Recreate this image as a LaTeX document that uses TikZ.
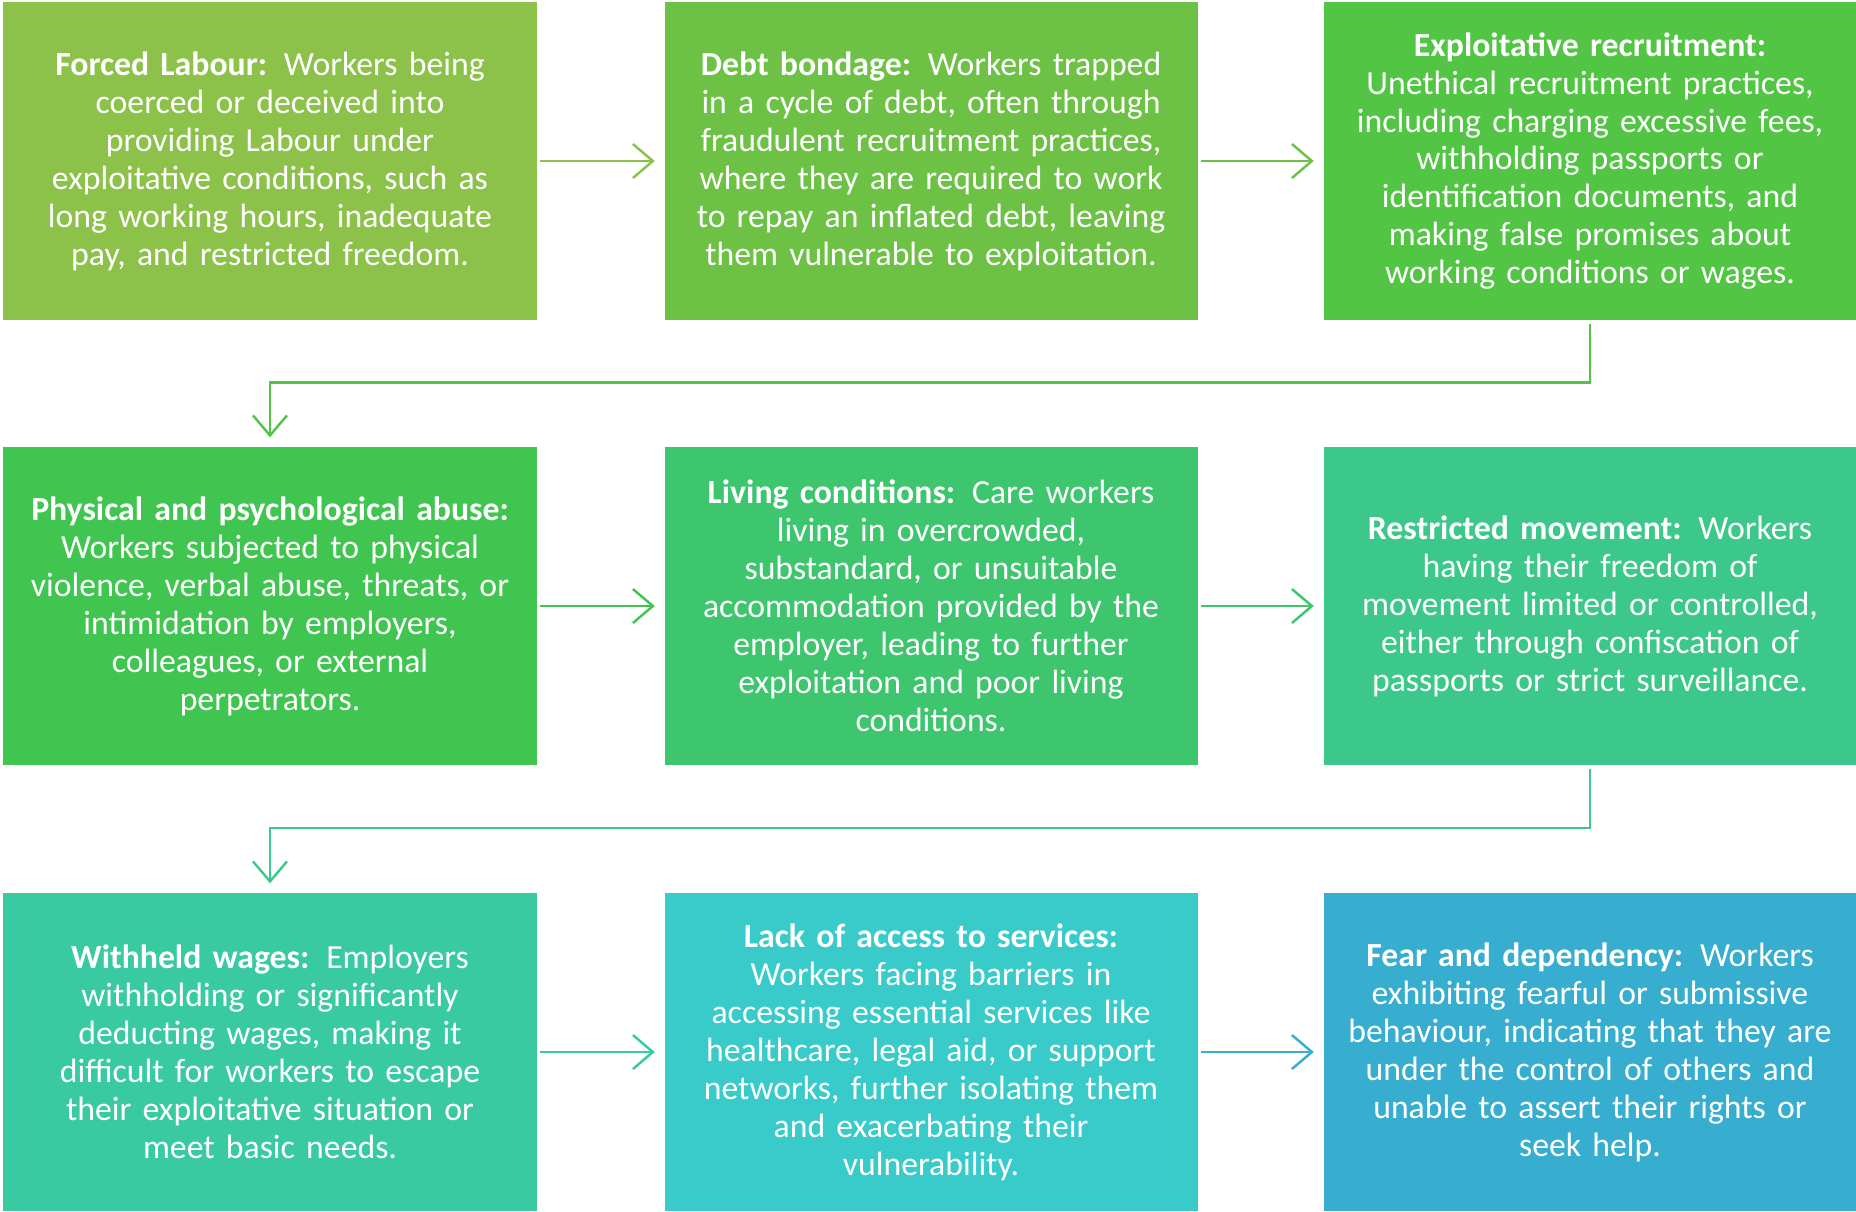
\documentclass[tikz,border=0pt]{standalone}
\usepackage{fontspec}
\setmainfont{Carlito}
\usepackage{tikz}
\usetikzlibrary{arrows.meta}

\definecolor{boxA}{HTML}{8CC24A}
\definecolor{boxB}{HTML}{6DC145}
\definecolor{boxC}{HTML}{52C544}
\definecolor{boxD}{HTML}{40C650}
\definecolor{boxE}{HTML}{3DC66E}
\definecolor{boxF}{HTML}{3CC88A}
\definecolor{boxG}{HTML}{3ACAA2}
\definecolor{boxH}{HTML}{38CBCA}
\definecolor{boxI}{HTML}{37AECF}

\tikzset{
  signbox/.style={fill=#1, text=white, align=center, inner sep=0cm,
    text width=5.25cm, minimum width=5.33cm, minimum height=3.18cm,
    font=\fontsize{9.6}{10.8}\selectfont},
  flow/.style={draw=#1, line width=0.7pt,
    -{Straight Barb[length=2mm,width=3.4mm]},
    shorten <=0.03cm, shorten >=0.09cm}
}

\begin{document}
\begin{tikzpicture}
\useasboundingbox (0,0) rectangle (18.56,-12.11);

% first row
\node[signbox=boxA] (forced) at (2.70,-1.61) {\textbf{Forced Labour:} Workers being\\
coerced or deceived into\\providing Labour under\\exploitative conditions, such as\\
long working hours, inadequate\\pay, and restricted freedom.};
\node[signbox=boxB] (debt) at (9.31,-1.61) {\textbf{Debt bondage:} Workers trapped\\
in a cycle of debt, often through\\fraudulent recruitment practices,\\
where they are required to work\\to repay an inflated debt, leaving\\
them vulnerable to exploitation.};
\node[signbox=boxC] (recruit) at (15.90,-1.61) {\textbf{Exploitative recruitment:}\\
Unethical recruitment practices,\\including charging excessive fees,\\
withholding passports or\\identification documents, and\\
making false promises about\\working conditions or wages.};

% second row
\node[signbox=boxD] (abuse) at (2.70,-6.06) {\textbf{Physical and psychological abuse:}\\
Workers subjected to physical\\violence, verbal abuse, threats, or\\
intimidation by employers,\\colleagues, or external\\perpetrators.};
\node[signbox=boxE] (living) at (9.31,-6.06) {\textbf{Living conditions:} Care workers\\
living in overcrowded,\\substandard, or unsuitable\\accommodation provided by the\\
employer, leading to further\\exploitation and poor living\\conditions.};
\node[signbox=boxF] (movement) at (15.90,-6.06) {\textbf{Restricted movement:} Workers\\
having their freedom of\\movement limited or controlled,\\
either through confiscation of\\passports or strict surveillance.};

% third row
\node[signbox=boxG] (wages) at (2.70,-10.52) {\textbf{Withheld wages:} Employers\\
withholding or significantly\\deducting wages, making it\\
difficult for workers to escape\\their exploitative situation or\\meet basic needs.};
\node[signbox=boxH] (services) at (9.31,-10.52) {\textbf{Lack of access to services:}\\
Workers facing barriers in\\accessing essential services like\\
healthcare, legal aid, or support\\networks, further isolating them\\
and exacerbating their\\vulnerability.};
\node[signbox=boxI] (fear) at (15.90,-10.52) {\textbf{Fear and dependency:} Workers\\
exhibiting fearful or submissive\\behaviour, indicating that they are\\
under the control of others and\\unable to assert their rights or\\seek help.};

% connectors
\draw[flow=boxA] (forced) -- (debt);
\draw[flow=boxB] (debt) -- (recruit);
\draw[flow=boxC] (recruit.south) -- ++(0,-0.62) -| (abuse.north);
\draw[flow=boxD] (abuse) -- (living);
\draw[flow=boxE] (living) -- (movement);
\draw[flow=boxF] (movement.south) -- ++(0,-0.62) -| (wages.north);
\draw[flow=boxG] (wages) -- (services);
\draw[flow=boxI] (services) -- (fear);
\end{tikzpicture}
\end{document}
